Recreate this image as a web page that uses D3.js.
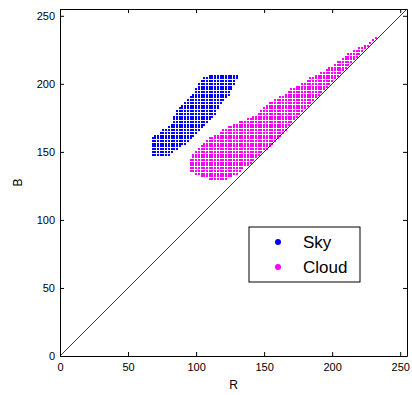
<html>
<head>
<script src="https://d3js.org/d3.v7.min.js"></script>
<style>
body { margin:0; background:#fff; }
text { font-family: "Liberation Sans", Arial, sans-serif; }
</style>
</head>
<body>
<div id="chart"></div>
<script>
	//outline of each class region in (R,B) space
	//the points are the 2-step pixel values that fall inside it
	var sky_R = [66, 68, 76, 82, 86, 96, 105, 115, 131, 130, 125, 118, 115, 108, 101, 96, 90, 81, 68];
	var sky_B = [151, 161, 166, 171, 181, 190, 205, 207, 207, 203, 193, 185, 179, 171, 164, 159, 154, 148, 148];

	var cloud_R = [94, 98, 103, 110, 120, 131, 140, 147, 154, 162, 169, 182, 191, 204, 213, 221, 228, 237,
		210, 170, 164, 157, 147, 137, 132, 125, 118, 112, 101, 96];
	var cloud_B = [143, 148, 153, 160, 166, 172, 175, 179, 187, 190, 196, 203, 208, 216, 223, 227, 231, 238,
		211, 171, 163, 155, 148, 139, 135, 131, 128, 129, 133, 135];

	var classes = ['Sky', 'Cloud'];
	var class_colors = ['#0000ff', '#ff00ff'];
	var ticks = [0, 50, 100, 150, 200, 250];
	var step = 2;

	var width = 412, height = 395;
	var margin = {left:60, right:5, top:9, bottom:39};

	var x = d3.scaleLinear().domain([0, 255]).range([margin.left, width - margin.right]);
	var y = d3.scaleLinear().domain([0, 255]).range([height - margin.bottom, margin.top]);

	var svg = d3.select('#chart').append('svg')
		.attr('width', width)
		.attr('height', height);

	function grid_points(rs, bs){
		var poly = rs.map(function(r, i){ return [r, bs[i]]; });
		var pts = [];
		for (var r = 0; r <= 255; r += step){
			for (var b = 0; b <= 255; b += step){
				if (d3.polygonContains(poly, [r, b])) pts.push([r, b]);
			}
		}
		return pts;
	}

	var sets = [grid_points(sky_R, sky_B), grid_points(cloud_R, cloud_B)];

	//snap to whole pixels so the white gaps between markers show like the original
	sets.forEach(function(pts, k){
		svg.append('g')
			.attr('fill', class_colors[k])
			.attr('shape-rendering', 'crispEdges')
			.selectAll('rect')
			.data(pts)
			.enter().append('rect')
			.attr('x', function(d){ return Math.round(x(d[0])) - 1; })
			.attr('y', function(d){ return Math.round(y(d[1])) - 1; })
			.attr('width', 2)
			.attr('height', 2);
	});

	//diagonal R = B
	svg.append('line')
		.attr('x1', x(0)).attr('y1', y(0))
		.attr('x2', x(255)).attr('y2', y(255))
		.attr('stroke', '#000')
		.attr('stroke-width', 0.8);

	//axes, ticks pointing inwards like matlab
	svg.append('g')
		.attr('transform', 'translate(0,' + y(0) + ')')
		.call(d3.axisBottom(x).tickValues(ticks).tickSizeInner(-4).tickSizeOuter(0).tickPadding(7));
	svg.append('g')
		.attr('transform', 'translate(' + x(0) + ',0)')
		.call(d3.axisLeft(y).tickValues(ticks).tickSizeInner(-4).tickSizeOuter(0).tickPadding(5));
	svg.append('g')
		.attr('transform', 'translate(0,' + y(255) + ')')
		.call(d3.axisTop(x).tickValues(ticks).tickSizeInner(-4).tickSizeOuter(0).tickFormat(''));
	svg.append('g')
		.attr('transform', 'translate(' + x(255) + ',0)')
		.call(d3.axisRight(y).tickValues(ticks).tickSizeInner(-4).tickSizeOuter(0).tickFormat(''));

	svg.selectAll('.domain').attr('stroke', '#000');
	svg.selectAll('.tick line').attr('stroke', '#000');
	svg.selectAll('.tick text')
		.style('font-size', '11px')
		.style('font-family', '"Liberation Sans", Arial, sans-serif')
		.attr('fill', '#000');

	svg.append('text')
		.attr('x', (x(0) + x(255)) / 2)
		.attr('y', 389)
		.attr('text-anchor', 'middle')
		.style('font-size', '12px')
		.text('R');
	svg.append('text')
		.attr('transform', 'translate(22,' + (y(0) + y(255)) / 2 + ') rotate(-90)')
		.attr('text-anchor', 'middle')
		.style('font-size', '12px')
		.text('B');

	//legend
	var legend = svg.append('g').attr('transform', 'translate(249,227)');
	legend.append('rect')
		.attr('width', 111).attr('height', 55)
		.attr('fill', '#fff').attr('stroke', '#000');
	legend.selectAll('g.item')
		.data(classes)
		.enter().append('g')
		.attr('class', 'item')
		.each(function(d, i){
			var g = d3.select(this).attr('transform', 'translate(0,' + (15 + i * 25) + ')');
			g.append('circle').attr('cx', 29).attr('cy', 0).attr('r', 3).attr('fill', class_colors[i]);
			g.append('text').attr('x', 54).attr('y', 6).style('font-size', '17px').text(d);
		});
</script>
</body>
</html>
